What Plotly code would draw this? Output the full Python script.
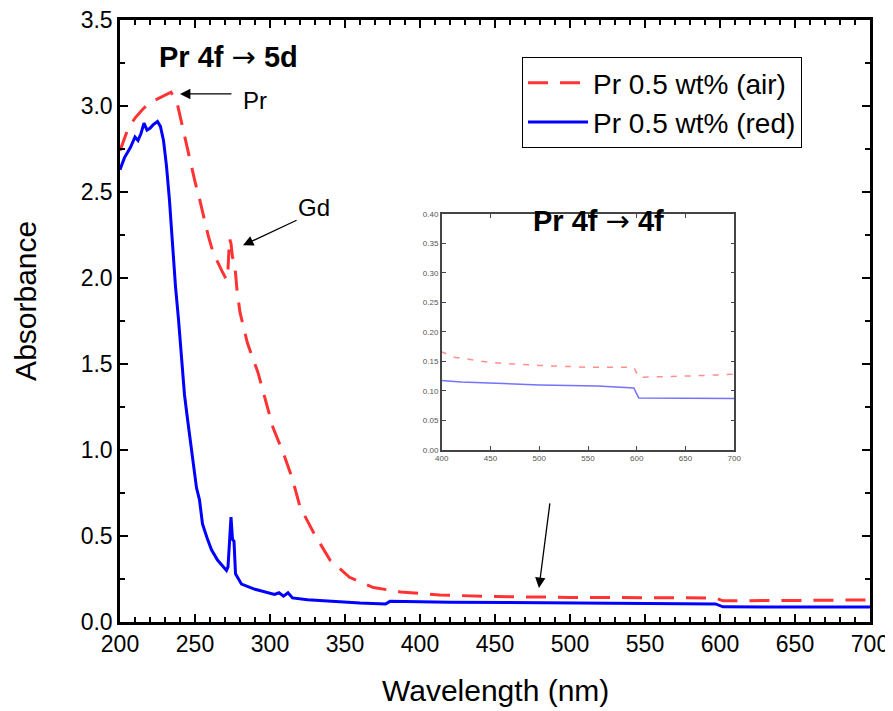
import plotly.graph_objects as go

# ---- data ----
air_x = [200, 205, 210, 215, 220, 225, 230, 234, 238, 241, 244, 247, 250, 253, 256, 259, 262, 265,
         268, 271, 272, 273, 274, 275, 276, 277, 278, 280, 285, 292, 297, 302, 309, 315, 320, 329,
         340, 353, 369, 387, 413, 450, 500, 550, 597, 602, 650, 700]
air_y = [2.74, 2.86, 2.93, 2.98, 3.02, 3.04, 3.06, 3.08, 3.02, 2.90, 2.78, 2.67, 2.56, 2.46, 2.35,
         2.24, 2.15, 2.09, 2.04, 1.99, 2.05, 2.23, 2.20, 2.12, 2.10, 2.03, 1.93, 1.80, 1.62, 1.45,
         1.29, 1.13, 0.98, 0.83, 0.67, 0.52, 0.36, 0.26, 0.20, 0.175, 0.157, 0.148, 0.143, 0.140,
         0.140, 0.123, 0.125, 0.128]

red_x = [200, 203, 207, 210, 212, 214, 216, 218, 220, 222, 225, 227, 229, 231, 233, 235, 237, 239,
         241, 243, 245, 247, 249, 251, 253, 255, 258, 261, 265, 269, 271, 272, 273, 274, 275, 276,
         277, 281, 290, 300, 303, 306, 309, 312, 315, 325, 342, 360, 377, 380, 420, 500, 560, 597,
         602, 650, 700]
red_y = [2.63, 2.70, 2.76, 2.82, 2.80, 2.84, 2.90, 2.86, 2.87, 2.89, 2.91, 2.88, 2.80, 2.65, 2.45,
         2.18, 1.95, 1.76, 1.55, 1.32, 1.18, 1.05, 0.92, 0.78, 0.71, 0.57, 0.49, 0.42, 0.36, 0.32,
         0.30, 0.32, 0.50, 0.61, 0.48, 0.47, 0.28, 0.22, 0.19, 0.165, 0.16, 0.17, 0.15, 0.17, 0.14,
         0.13, 0.12, 0.11, 0.105, 0.12, 0.115, 0.11, 0.108, 0.105, 0.088, 0.087, 0.087]

names = ["Pr 0.5 wt% (air)", "Pr 0.5 wt% (red)"]
x_ticks = [200, 250, 300, 350, 400, 450, 500, 550, 600, 650, 700]
y_ticks = [0.0, 0.5, 1.0, 1.5, 2.0, 2.5, 3.0, 3.5]
inset_x_ticks = [400, 450, 500, 550, 600, 650, 700]
inset_y_ticks = [0.00, 0.05, 0.10, 0.15, 0.20, 0.25, 0.30, 0.35, 0.40]

FONT = "Liberation Sans, Arial, sans-serif"
RED = "#FF3333"
BLUE = "#0000FF"
ARROW = '<span style="font-family:DejaVu Sans;font-weight:normal">\u2192</span>'

fig = go.Figure()

# main traces
fig.add_trace(go.Scatter(x=air_x, y=air_y, mode="lines", name=names[0],
                         line=dict(color=RED, width=3, dash="20px,12px"),
                         xaxis="x", yaxis="y"))
fig.add_trace(go.Scatter(x=red_x, y=red_y, mode="lines", name=names[1],
                         line=dict(color=BLUE, width=3),
                         xaxis="x", yaxis="y"))
# inset traces
fig.add_trace(go.Scatter(x=air_x, y=air_y, mode="lines", showlegend=False,
                         line=dict(color=RED, width=1.5, dash="6px,8px"), opacity=0.55,
                         xaxis="x2", yaxis="y2"))
fig.add_trace(go.Scatter(x=red_x, y=red_y, mode="lines", showlegend=False,
                         line=dict(color=BLUE, width=1.5), opacity=0.55,
                         xaxis="x2", yaxis="y2"))

axis_common = dict(showgrid=False, zeroline=False, showline=True, linecolor="black",
                   linewidth=2.5, mirror="ticks", ticks="inside", ticklen=8, tickwidth=2,
                   tickcolor="black", automargin=False, ticklabeloverflow="allow",
                   tickfont=dict(family=FONT, size=23, color="black"))

inset_common = dict(showgrid=False, zeroline=False, showline=True, linecolor="#444", linewidth=1.5,
                    mirror="ticks", ticks="inside", ticklen=4, tickwidth=1, tickcolor="#444",
                    automargin=False, tickfont=dict(family=FONT, size=8, color="#555"))

# the page adds an 8px body margin, so the figure is sized to fit inside the 893x711 window
fig.update_layout(
    width=885, height=703,
    margin=dict(l=112, r=23, t=12, b=89, autoexpand=False),
    paper_bgcolor="white", plot_bgcolor="white",
    font=dict(family=FONT, color="black"),
    xaxis=dict(range=[200, 700], tickvals=x_ticks, ticktext=[str(v) for v in x_ticks],
               minor=dict(dtick=10, ticks="inside", ticklen=5, tickwidth=2, tickcolor="black"),
               domain=[0, 1], anchor="y", **axis_common),
    yaxis=dict(range=[0, 3.5], tickvals=y_ticks, ticktext=[f"{v:.1f}" for v in y_ticks],
               minor=dict(dtick=0.25, ticks="inside", ticklen=5, tickwidth=2, tickcolor="black"),
               domain=[0, 1], anchor="x", **axis_common),
    xaxis2=dict(domain=[0.429, 0.819], anchor="y2", range=[400, 700],
                tickvals=inset_x_ticks, ticktext=[str(v) for v in inset_x_ticks], **inset_common),
    yaxis2=dict(domain=[0.286, 0.678], anchor="x2", range=[0, 0.40],
                tickvals=inset_y_ticks, ticktext=[f"{v:.2f}" for v in inset_y_ticks], **inset_common),
    legend=dict(x=0.536, y=0.9385, xanchor="left", yanchor="top",
                bgcolor="white", bordercolor="black", borderwidth=1,
                font=dict(family=FONT, size=28, color="black"),
                itemwidth=60, tracegroupgap=0),
)

ann = []
# axis titles
ann.append(dict(text="Wavelength (nm)", xref="paper", yref="paper", x=0.5, y=-0.113,
                xanchor="center", yanchor="middle", showarrow=False,
                font=dict(family=FONT, size=30, color="black")))
ann.append(dict(text="Absorbance", xref="paper", yref="paper", x=-0.127, y=0.533,
                xanchor="center", yanchor="middle", textangle=-90, showarrow=False,
                font=dict(family=FONT, size=30, color="black")))
# panel titles
ann.append(dict(text=f"<b>Pr 4f</b> {ARROW} <b>5d</b>", xref="x", yref="y", x=272, y=3.285,
                showarrow=False, font=dict(family=FONT, size=29, color="black")))
ann.append(dict(text=f"<b>Pr 4f</b> {ARROW} <b>4f</b>", xref="x", yref="y", x=519, y=2.33,
                showarrow=False, font=dict(family=FONT, size=29, color="black")))
# labels
ann.append(dict(text="Pr", xref="x", yref="y", x=290, y=3.03, showarrow=False,
                font=dict(family=FONT, size=24, color="black")))
ann.append(dict(text="Gd", xref="x", yref="y", x=329, y=2.41, showarrow=False,
                font=dict(family=FONT, size=24, color="black")))
# arrows
for (hx, hy, tx, ty) in [(240, 3.07, 275.3, 3.07), (282, 2.19, 318.7, 2.34), (479.3, 0.198, 486.7, 0.698)]:
    ann.append(dict(text="", xref="x", yref="y", x=hx, y=hy, axref="x", ayref="y", ax=tx, ay=ty,
                    showarrow=True, arrowhead=2, arrowsize=1.6, arrowwidth=1.3, arrowcolor="black"))
fig.update_layout(annotations=ann)

fig.write_html("out.html")
